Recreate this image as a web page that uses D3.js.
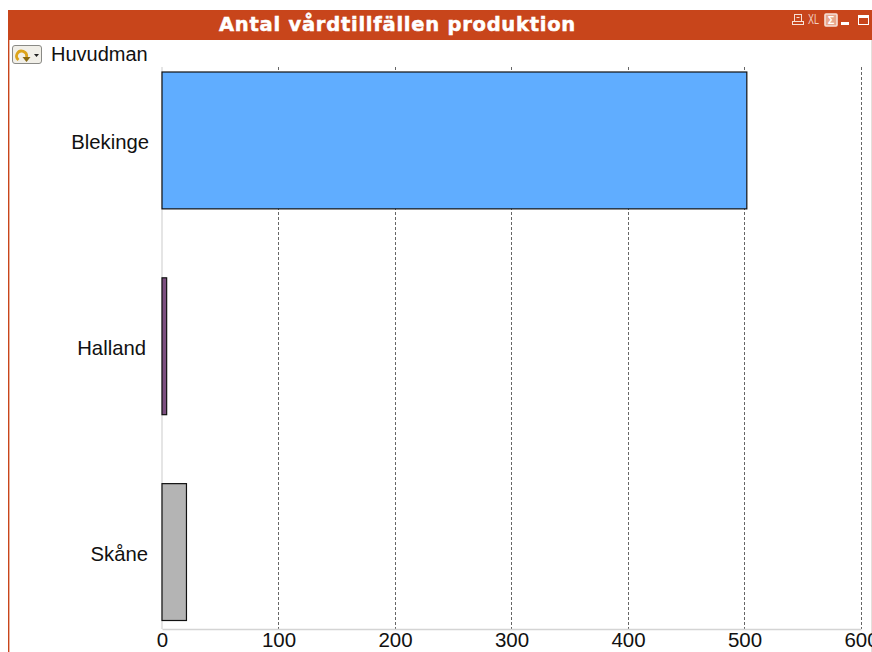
<!DOCTYPE html>
<html>
<head>
<meta charset="utf-8">
<script src="https://cdn.jsdelivr.net/npm/d3@7"></script>
<style>
html,body{margin:0;padding:0;background:#fff;overflow:hidden}
text{font-family:"Liberation Sans",Arial,sans-serif}
</style>
</head>
<body>
<svg id="chart" width="872" height="652"></svg>
<script>
const chartTitle = "Antal vårdtillfällen produktion";
const dimensionLabel = "Huvudman";
const categories = ["Blekinge", "Halland", "Skåne"];
const values = [502, 4, 21];
const barColors = ["#60adff", "#7b4f7f", "#b4b4b4"];
const tickValues = [0, 100, 200, 300, 400, 500, 600];

const svg = d3.select("#chart");
const band = "#c8451b";

// Window frame: title band, left edge, faint right edge
svg.append("rect").attr("x", 8).attr("y", 10).attr("width", 864).attr("height", 30).attr("fill", band);
svg.append("rect").attr("x", 8).attr("y", 40).attr("width", 1.4).attr("height", 612).attr("fill", band);
svg.append("rect").attr("x", 871).attr("y", 40).attr("width", 1).attr("height", 612).attr("fill", "#e4e0dc");

svg.append("text")
  .attr("x", 397.5).attr("y", 31)
  .attr("text-anchor", "middle")
  .attr("fill", "#fff")
  .attr("stroke", "#fff")
  .attr("stroke-width", 0.5)
  .attr("font-size", 19.5)
  .attr("font-weight", "bold")
  .attr("letter-spacing", 0.75)
  .style("font-family", "'DejaVu Sans',sans-serif")
  .text(chartTitle);

// Window controls in the title band
const ctl = svg.append("g").attr("fill", "none").attr("stroke", "#f6e0d6").attr("stroke-width", 1);
ctl.append("rect").attr("x", 794.5).attr("y", 14.5).attr("width", 7).attr("height", 7);
ctl.append("rect").attr("x", 792.5).attr("y", 21.5).attr("width", 11).attr("height", 3);
ctl.append("path").attr("d", "M796.5 17.5h3");
svg.append("text").attr("x", 808).attr("y", 24).attr("fill", "#f3d0c0").attr("font-size", 14)
  .attr("textLength", 11).attr("lengthAdjust", "spacingAndGlyphs").text("XL");
ctl.append("rect").attr("x", 825).attr("y", 14).attr("width", 12).attr("height", 12).attr("rx", 1).attr("stroke-width", 1.6)
  .attr("fill", "#e8a78c");
svg.append("text").attr("x", 831).attr("y", 24).attr("text-anchor", "middle").attr("fill", "#fff")
  .attr("font-size", 11).attr("font-weight", "bold").text("Σ");
svg.append("rect").attr("x", 841).attr("y", 22).attr("width", 8).attr("height", 3).attr("fill", "#fff");
ctl.append("rect").attr("x", 858.5).attr("y", 15.5).attr("width", 10).attr("height", 9).attr("stroke", "#fff");
svg.append("rect").attr("x", 858).attr("y", 15).attr("width", 11).attr("height", 3).attr("fill", "#fff");

// Cycle-group button beside the dimension label
const btn = svg.append("g");
btn.append("rect").attr("x", 12.5).attr("y", 45.5).attr("width", 29).attr("height", 18).attr("rx", 2.5)
  .attr("fill", "#f1efe8").attr("stroke", "#8a8a86");
btn.append("path").attr("d", "M18.5 60 a5 5 0 1 1 8 -3").attr("fill", "none").attr("stroke", "#dca31a").attr("stroke-width", 2.8);
btn.append("path").attr("d", "M22.5 57h8l-4 5z").attr("fill", "#8a6a10");
btn.append("path").attr("d", "M34 54h5l-2.5 3z").attr("fill", "#222");

svg.append("text").attr("x", 51).attr("y", 61).attr("font-size", 20).attr("fill", "#111").text(dimensionLabel);

// Scales
const x = d3.scaleLinear().domain([0, 600]).range([162, 861]);
const y = d3.scaleBand().domain(categories).range([72, 620.5]).paddingInner(0.335).paddingOuter(0);
const plotTop = 67, plotBottom = 629;

// Dashed gridlines behind the bars
svg.append("g").selectAll("line").data(tickValues.slice(1)).join("line")
  .attr("x1", d => Math.floor(x(d)) + 0.5).attr("x2", d => Math.floor(x(d)) + 0.5)
  .attr("y1", plotTop).attr("y2", plotBottom)
  .attr("stroke", "#666").attr("stroke-dasharray", "3 2");

// Axes
const xAxis = svg.append("g").attr("transform", `translate(0,${plotBottom})`)
  .call(d3.axisBottom(x).tickValues(tickValues).tickSize(0).tickPadding(3).tickFormat(d3.format("d")));
xAxis.select(".domain").attr("stroke", "#d4d4d4").attr("stroke-width", 1.4);
xAxis.selectAll("text").attr("font-size", 20.5).attr("fill", "#111").style("font-family", "'Liberation Sans',Arial,sans-serif");

svg.append("line").attr("x1", 162).attr("x2", 162).attr("y1", plotTop).attr("y2", plotBottom)
  .attr("stroke", "#d4d4d4").attr("stroke-width", 1.2);

// Bars
svg.append("g").selectAll("rect").data(categories).join("rect")
  .attr("x", x(0)).attr("y", d => y(d))
  .attr("width", (d, i) => x(values[i]) - x(0))
  .attr("height", y.bandwidth())
  .attr("fill", (d, i) => barColors[i])
  .attr("stroke", "#111").attr("stroke-width", 1.2);

// Category labels, each nudged slightly left of the bars
const labelNudge = [0, -3, -1];
svg.append("g").selectAll("text").data(categories).join("text")
  .attr("x", (d, i) => 149 + labelNudge[i])
  .attr("y", d => y(d) + y.bandwidth() / 2 + 8.5)
  .attr("text-anchor", "end")
  .attr("font-size", 20.3)
  .attr("fill", "#111")
  .text(d => d);
</script>
</body>
</html>
